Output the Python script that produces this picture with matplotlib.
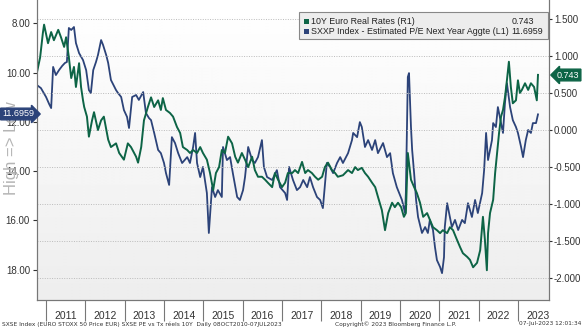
import matplotlib
matplotlib.use("Agg")
import matplotlib.pyplot as plt
import numpy as np
from matplotlib.ticker import FixedLocator, FuncFormatter
from matplotlib.patches import Rectangle

# SXXP estimated P/E next year (left axis, inverted)
pe_years = [2010.77, 2010.87, 2011.00, 2011.08, 2011.13, 2011.18, 2011.25, 2011.33, 2011.41,
            2011.48, 2011.53, 2011.58, 2011.64, 2011.71, 2011.76, 2011.84, 2011.94, 2012.02,
            2012.09, 2012.14, 2012.20, 2012.27, 2012.32, 2012.40, 2012.45, 2012.53, 2012.58,
            2012.65, 2012.78, 2012.83, 2012.91, 2012.98, 2013.06, 2013.11, 2013.19, 2013.29,
            2013.36, 2013.47, 2013.54, 2013.62, 2013.67, 2013.75, 2013.85, 2013.92, 2014.00,
            2014.05, 2014.13, 2014.20, 2014.28, 2014.36, 2014.46, 2014.59, 2014.66, 2014.74,
            2014.79, 2014.84, 2014.92, 2014.99, 2015.09, 2015.14, 2015.22, 2015.30, 2015.37,
            2015.47, 2015.50, 2015.60, 2015.68, 2015.75, 2015.86, 2015.93, 2016.01, 2016.06,
            2016.14, 2016.24, 2016.31, 2016.39, 2016.49, 2016.54, 2016.62, 2016.75, 2016.87,
            2016.95, 2017.08, 2017.13, 2017.18, 2017.28, 2017.38, 2017.46, 2017.54, 2017.64,
            2017.71, 2017.79, 2017.89, 2017.97, 2018.04, 2018.14, 2018.22, 2018.30, 2018.40,
            2018.48, 2018.55, 2018.68, 2018.78, 2018.81, 2018.91, 2018.98, 2019.03, 2019.11,
            2019.19, 2019.29, 2019.37, 2019.44, 2019.57, 2019.67, 2019.75, 2019.82, 2019.92,
            2020.05, 2020.13, 2020.15, 2020.20, 2020.23, 2020.28, 2020.31, 2020.36, 2020.41,
            2020.46, 2020.56, 2020.64, 2020.71, 2020.76, 2020.84, 2020.89, 2020.94, 2021.02,
            2021.07, 2021.12, 2021.14, 2021.20, 2021.27, 2021.32, 2021.40, 2021.48, 2021.58,
            2021.65, 2021.73, 2021.83, 2021.91, 2021.98, 2022.09, 2022.14, 2022.19, 2022.24,
            2022.34, 2022.37, 2022.44, 2022.49, 2022.57, 2022.62, 2022.67, 2022.72, 2022.80,
            2022.87, 2022.95, 2023.00, 2023.08, 2023.13, 2023.20, 2023.26, 2023.33, 2023.38,
            2023.46, 2023.51]
pe_values = [10.51, 10.63, 10.99, 11.28, 11.44, 9.77, 10.10, 9.90, 9.73,
             9.61, 9.57, 8.19, 8.27, 8.15, 8.80, 9.21, 9.49, 9.90,
             10.71, 10.83, 9.90, 9.57, 9.29, 8.68, 8.88, 9.29, 9.61,
             10.30, 10.71, 10.83, 10.99, 11.52, 11.80, 12.25, 10.99, 10.91,
             11.11, 10.79, 11.64, 11.85, 11.93, 12.45, 13.14, 13.27, 13.67,
             14.08, 14.56, 12.62, 12.86, 13.27, 13.67, 13.43, 13.67, 13.02,
             12.45, 13.67, 14.24, 13.83, 14.89, 16.51, 14.65, 15.05, 14.77,
             15.05, 13.02, 13.55, 13.43, 14.08, 15.05, 15.17, 14.77, 14.24,
             13.02, 13.55, 13.67, 13.43, 12.74, 13.83, 14.24, 14.36, 13.96,
             14.65, 14.89, 15.17, 13.83, 14.36, 14.77, 14.65, 14.36, 14.65,
             14.24, 14.65, 15.05, 15.17, 15.50, 13.67, 13.83, 14.08, 13.67,
             13.43, 13.67, 13.27, 12.74, 12.45, 12.62, 12.01, 12.21, 13.02,
             12.74, 13.14, 12.74, 13.27, 12.86, 13.43, 13.27, 14.08, 14.65,
             15.17, 15.70, 14.89, 10.18, 10.02, 12.21, 13.14, 14.08, 15.17,
             15.86, 16.51, 16.27, 16.51, 15.98, 16.39, 17.08, 17.61, 17.89,
             18.14, 17.49, 16.27, 15.30, 15.86, 16.27, 15.98, 16.39, 15.98,
             16.11, 15.30, 15.86, 15.17, 15.70, 14.89, 13.96, 12.45, 13.55,
             12.74, 12.05, 12.21, 11.40, 12.05, 12.45, 11.24, 10.43, 11.40,
             11.93, 12.21, 12.45, 13.02, 13.43, 12.74, 12.33, 12.45, 12.05,
             12.05, 11.6959]

# 10Y Euro real rates (right axis)
rr_years = [2010.77, 2010.85, 2010.92, 2010.95, 2011.05, 2011.13, 2011.20, 2011.31, 2011.38,
            2011.46, 2011.51, 2011.58, 2011.64, 2011.71, 2011.76, 2011.84, 2011.89, 2011.94,
            2011.97, 2012.04, 2012.09, 2012.17, 2012.22, 2012.32, 2012.40, 2012.47, 2012.58,
            2012.65, 2012.78, 2012.86, 2012.98, 2013.08, 2013.16, 2013.29, 2013.34, 2013.42,
            2013.49, 2013.59, 2013.67, 2013.75, 2013.85, 2013.92, 2013.97, 2014.05, 2014.15,
            2014.23, 2014.33, 2014.41, 2014.48, 2014.59, 2014.66, 2014.74, 2014.84, 2014.92,
            2014.99, 2015.09, 2015.17, 2015.25, 2015.32, 2015.40, 2015.47, 2015.55, 2015.63,
            2015.73, 2015.81, 2015.88, 2015.98, 2016.06, 2016.14, 2016.24, 2016.31, 2016.39,
            2016.49, 2016.57, 2016.64, 2016.75, 2016.82, 2016.90, 2017.00, 2017.08, 2017.15,
            2017.26, 2017.33, 2017.41, 2017.51, 2017.59, 2017.66, 2017.76, 2017.84, 2017.92,
            2018.02, 2018.09, 2018.17, 2018.27, 2018.35, 2018.42, 2018.55, 2018.68, 2018.78,
            2018.86, 2018.93, 2019.03, 2019.11, 2019.19, 2019.29, 2019.37, 2019.44, 2019.54,
            2019.62, 2019.70, 2019.80, 2019.87, 2019.95, 2020.03, 2020.10, 2020.15, 2020.20,
            2020.28, 2020.36, 2020.43, 2020.51, 2020.59, 2020.69, 2020.76, 2020.84, 2020.94,
            2021.02, 2021.09, 2021.20, 2021.27, 2021.35, 2021.45, 2021.53, 2021.60, 2021.71,
            2021.78, 2021.86, 2021.96, 2022.04, 2022.11, 2022.16, 2022.21, 2022.24, 2022.29,
            2022.37, 2022.42, 2022.47, 2022.52, 2022.57, 2022.62, 2022.67, 2022.72, 2022.77,
            2022.82, 2022.87, 2022.95, 2023.00, 2023.05, 2023.10, 2023.18, 2023.26, 2023.33,
            2023.41, 2023.48, 2023.51]
rr_values = [0.78, 0.98, 1.31, 1.42, 1.17, 1.32, 1.21, 1.35, 1.25,
             1.12, 1.25, 0.98, 0.70, 0.85, 0.58, 0.90, 0.58, 0.40,
             0.31, 0.18, -0.09, 0.13, 0.24, 0.00, 0.13, 0.18, -0.13,
             -0.23, -0.18, -0.31, -0.40, -0.18, -0.23, -0.36, -0.44, -0.23,
             0.13, 0.31, 0.44, 0.31, 0.40, 0.27, 0.43, 0.27, 0.23,
             0.18, 0.04, -0.04, -0.23, -0.27, -0.31, -0.27, -0.31, -0.23,
             -0.31, -0.40, -0.58, -0.81, -0.58, -0.50, -0.27, -0.31, -0.09,
             -0.18, -0.36, -0.44, -0.31, -0.40, -0.50, -0.36, -0.54, -0.63,
             -0.63, -0.67, -0.71, -0.77, -0.58, -0.67, -0.77, -0.71, -0.58,
             -0.58, -0.54, -0.58, -0.43, -0.58, -0.54, -0.58, -0.63, -0.67,
             -0.63, -0.50, -0.44, -0.54, -0.58, -0.63, -0.61, -0.54, -0.58,
             -0.50, -0.54, -0.51, -0.58, -0.63, -0.71, -0.77, -0.90, -1.08,
             -1.35, -1.12, -0.98, -1.04, -0.98, -1.04, -1.17, -1.12, -0.31,
             -0.67, -0.77, -0.85, -0.98, -1.17, -1.12, -1.21, -1.31, -1.35,
             -1.39, -1.35, -1.39, -1.31, -1.35, -1.48, -1.58, -1.66, -1.71,
             -1.75, -1.85, -1.79, -1.62, -1.17, -1.48, -1.89, -1.39, -1.12,
             -0.94, -0.58, -0.31, -0.04, 0.18, 0.27, 0.44, 0.67, 0.92,
             0.58, 0.36, 0.40, 0.67, 0.50, 0.54, 0.63, 0.54, 0.63,
             0.58, 0.40, 0.743]

year_labels = [str(y) for y in range(2011, 2024)]
left_ticks = [8, 10, 12, 14, 16, 18]
right_ticks = [-2.0, -1.5, -1.0, -0.5, 0.0, 0.5, 1.0, 1.5]

NAVY = "#2c4379"
GREEN = "#0d6446"
W, H = 582, 329
FONT = "Liberation Sans"

plt.rcParams['font.family'] = ['DejaVu Sans']
fig = plt.figure(figsize=(W / 100, H / 100), dpi=100)
fig.patch.set_facecolor("white")

rect = [37 / W, 29 / H, 512 / W, 300 / H]

# background gradient, white to light grey, in its own axes behind everything
bg = fig.add_axes(rect, zorder=0)
grad = np.linspace(1.0, 0.93, 200).reshape(-1, 1)
bg.imshow(grad, cmap="gray", vmin=0, vmax=1, aspect="auto", extent=[0, 1, 0, 1])
bg.set_axis_off()

ax = fig.add_axes(rect, zorder=1)
ax.patch.set_visible(False)
ax2 = ax.twinx()
ax2.patch.set_visible(False)

for v in right_ticks:
    ax2.axhline(v, color="#bbbbbb", lw=0.7, ls=(0, (1, 1.5)), zorder=1)
ax2.plot(rr_years, rr_values, color=GREEN, lw=1.4, zorder=2)
ax.plot(pe_years, pe_values, color=NAVY, lw=1.3, zorder=3)

ax.set_xlim(2010.77, 2023.79)
ax.set_ylim(19.23, 7.054)
ax2.set_ylim(-2.291, 1.752)

# left axis
ax.yaxis.set_major_locator(FixedLocator(left_ticks))
ax.yaxis.set_major_formatter(FuncFormatter(lambda v, p: f"{v:.2f}"))
ax.tick_params(axis="y", length=3, width=0.8, labelsize=7, pad=2, colors="#333333")

# right axis
ax2.yaxis.set_major_locator(FixedLocator(right_ticks))
ax2.yaxis.set_major_formatter(FuncFormatter(lambda v, p: f"{v:.3f}"))
ax2.tick_params(axis="y", length=2, width=0.8, labelsize=7, pad=1.5, colors="#333333")
for lab in ax.get_yticklabels() + ax2.get_yticklabels():
    lab.set_family(FONT)

# x axis: separators at year starts, labels centred in each year
ax.xaxis.set_minor_locator(FixedLocator(list(range(2011, 2024))))
ax.xaxis.set_major_locator(FixedLocator([y + 0.5 for y in range(2011, 2024)]))
ax.set_xticklabels(year_labels, family=FONT)
ax.tick_params(axis="x", which="major", length=0, labelsize=7.5, pad=8, colors="#333333")
ax.tick_params(axis="x", which="minor", length=15, width=0.8, color="#777777")

for a in (ax, ax2):
    a.spines["top"].set_visible(False)
    a.spines["left"].set_color("#777777")
    a.spines["right"].set_color("#777777")
    a.spines["bottom"].set_color("#777777")


def fx(px):
    return px / W


def fy(py):
    return 1 - py / H


# legend box
fig.patches.append(Rectangle((fx(299), fy(39)), fx(249), 27 / H, transform=fig.transFigure,
                             facecolor="#ededed", edgecolor="#888888", lw=0.8, zorder=5))
fig.patches.append(Rectangle((fx(304), fy(24)), 5 / W, 5 / H, transform=fig.transFigure,
                             facecolor=GREEN, edgecolor="none", zorder=6))
fig.patches.append(Rectangle((fx(304), fy(34)), 5 / W, 5 / H, transform=fig.transFigure,
                             facecolor=NAVY, edgecolor="none", zorder=6))
leg_font = dict(fontsize=6.4, family=FONT, color="#222222", va="center", zorder=7)
fig.text(fx(311), fy(21), "10Y Euro Real Rates (R1)", **leg_font)
fig.text(fx(534), fy(21), "0.743", ha="right", **leg_font)
fig.text(fx(311), fy(31), "SXXP Index - Estimated P/E Next Year Aggte (L1)", **leg_font)
fig.text(fx(543), fy(31), "11.6959", ha="right", **leg_font)

# last value tags
fig.text(fx(2), fy(114), "11.6959", color="white", fontsize=6.5, va="center", ha="left",
         family=FONT, zorder=8,
         bbox=dict(boxstyle="rarrow,pad=0.15", fc=NAVY, ec=NAVY))
fig.text(fx(557), fy(75), "0.743", color="white", fontsize=6.5, va="center", ha="left",
         family=FONT, zorder=8,
         bbox=dict(boxstyle="larrow,pad=0.15", fc=GREEN, ec=GREEN))

# axis caption
fig.text(fx(12), fy(148), "High => Low", rotation=90, color="#b5b5b5", fontsize=12,
         ha="center", va="center", family=FONT)

# footer
foot = dict(fontsize=4.2, color="#333333", va="center")
fig.text(fx(2), fy(324), "SXSE Index (EURO STOXX 50 Price EUR) SXSE PE vs Tx réels 10Y  Daily 08OCT2010-07JUL2023", **foot)
fig.text(fx(335), fy(324), "Copyright© 2023 Bloomberg Finance L.P.", **foot)
fig.text(fx(581), fy(324), "07-Jul-2023 12:01:34", ha="right", **foot)

fig.savefig("out.png", dpi=100)
